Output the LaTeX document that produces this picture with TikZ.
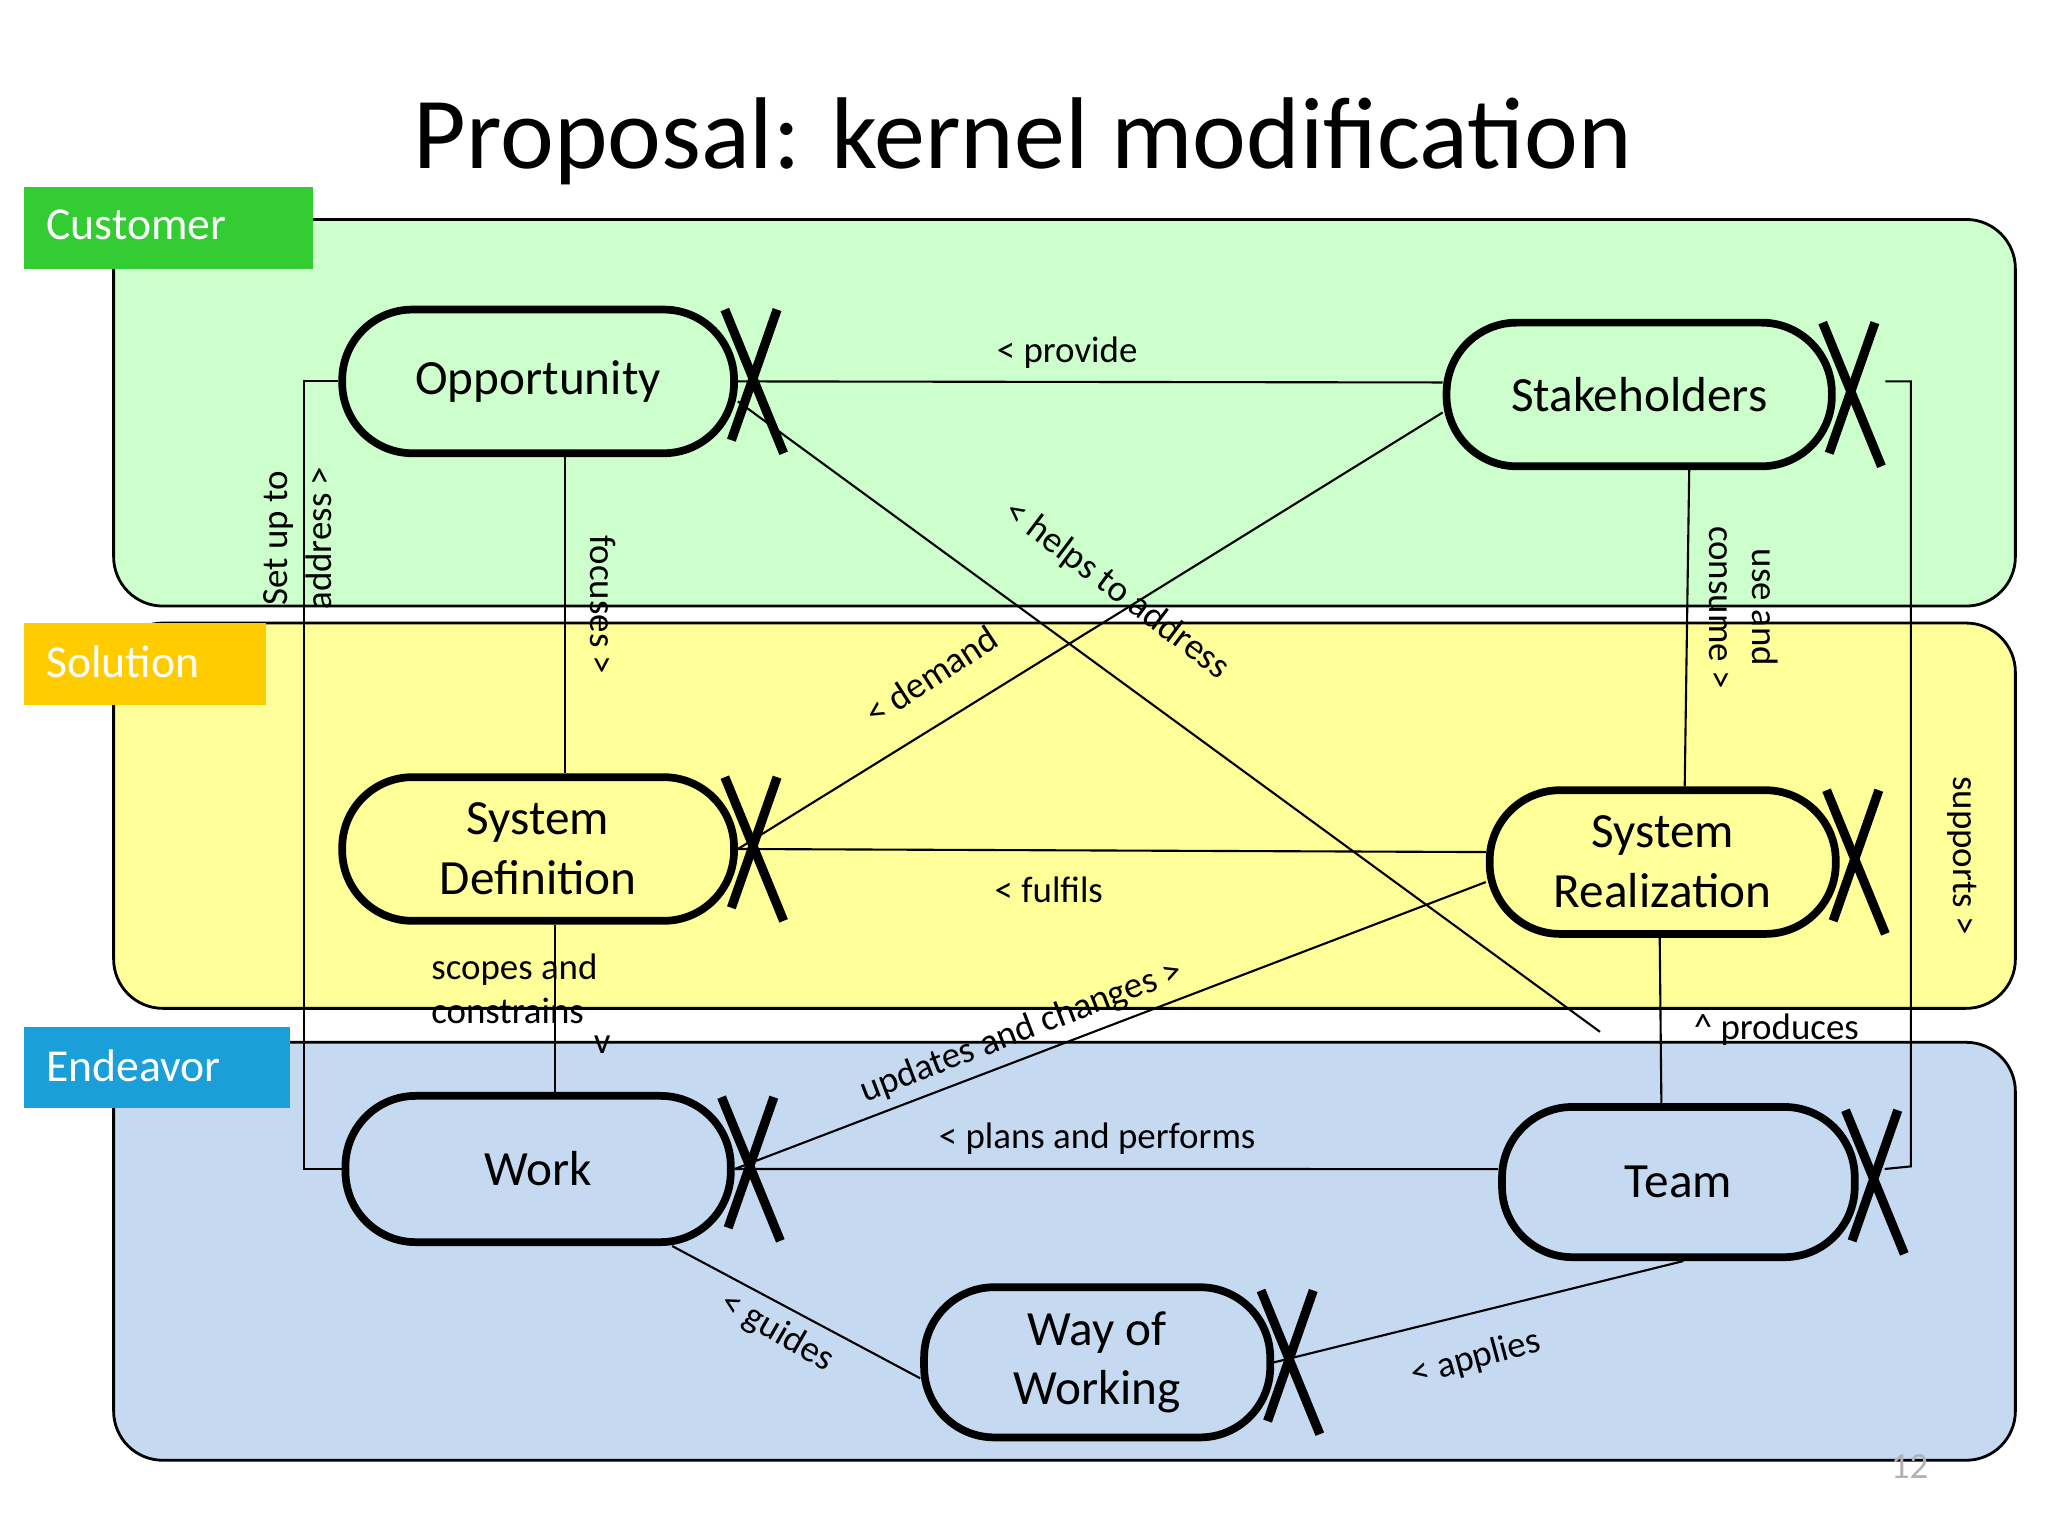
\documentclass[tikz,border=0pt]{standalone}
\usepackage{fontspec}
\setmainfont{Carlito}
\definecolor{custbg}{RGB}{204,255,204}
\definecolor{solbg}{RGB}{255,255,153}
\definecolor{endbg}{RGB}{197,217,241}
\definecolor{custtag}{RGB}{51,204,51}
\definecolor{soltag}{RGB}{255,204,0}
\definecolor{endtag}{RGB}{26,159,216}
\begin{document}
\begin{tikzpicture}[x=0.1306mm,y=-0.1306mm,
  band/.style={draw=black,line width=0.8pt,rounded corners=14pt},
  tag/.style={anchor=north west,text=white,font=\fontsize{13}{15}\selectfont,inner sep=0pt},
  alpha/.style={draw=black,line width=2.2pt,rounded corners=20pt,align=center,
    font=\fontsize{14}{17}\selectfont,inner sep=0pt},
  link/.style={draw=black,line width=0.6pt},
  lbl/.style={font=\fontsize{10.5}{12.5}\selectfont,inner sep=1pt,align=center}]
\useasboundingbox (0,0) rectangle (1568,1176);
\node[font=\fontsize{29}{33}\selectfont] (title) at (783,108) {Proposal: kernel modification};
% bands
\draw[band,fill=custbg] (87,168) rectangle (1543,464);
\draw[band,fill=solbg] (87,477) rectangle (1543,772);
\draw[band,fill=endbg] (87,798) rectangle (1543,1118);
\fill[custtag] (18,143) rectangle (240,206);
\node[tag] (tc) at (35,160) {Customer};
\fill[soltag] (18,477) rectangle (204,540);
\node[tag] (ts) at (35,494) {Solution};
\fill[endtag] (18,786) rectangle (222,848);
\node[tag] (te) at (35,803) {Endeavor};
% alphas
\node[alpha,minimum width=300*0.1306mm,minimum height=110*0.1306mm] (opp) at (412,292) {Opportunity};
\node[alpha,minimum width=295*0.1306mm,minimum height=110*0.1306mm] (stk) at (1255,302) {Stakeholders};
\node[alpha,minimum width=300*0.1306mm,minimum height=110*0.1306mm] (sd) at (412,650) {System\\Definition};
\node[alpha,minimum width=265*0.1306mm,minimum height=110*0.1306mm] (sr) at (1273,660) {System\\Realization};
\node[alpha,minimum width=295*0.1306mm,minimum height=112*0.1306mm] (wk) at (412,895) {Work};
\node[alpha,minimum width=270*0.1306mm,minimum height=115*0.1306mm] (tm) at (1285,905) {Team};
\node[alpha,minimum width=265*0.1306mm,minimum height=115*0.1306mm] (ww) at (840,1043) {Way of\\Working};
\foreach \n in {opp,stk,sd,sr,wk,tm,ww}{
  \draw[line width=2.6pt] ([shift={(-10,-55)}]\n.east) -- ([shift={(35,55)}]\n.east);
  \draw[line width=2.6pt] ([shift={(30,-55)}]\n.east) -- ([shift={(-5,45)}]\n.east);
}
% connectors
\coordinate (hx) at (1225,790);
\coordinate (sa1) at (233,292);
\coordinate (sa2) at (233,895);
\coordinate (sp1) at (1463,292);
\coordinate (sp2) at (1463,893);
\draw[link] (opp.east) -- ([yshift=1.2mm]stk.west);
\draw[link] ([yshift=-2mm]opp.east) -- (hx);
\draw[link] ([yshift=-1.8mm]stk.west) -- (sd.east);
\draw[link] ([xshift=2.7mm]opp.south) -- ([xshift=2.7mm]sd.north);
\draw[link] ([xshift=5mm]stk.south) -- ([xshift=2.2mm]sr.north);
\draw[link] (sd.east) -- ([yshift=1mm]sr.west);
\draw[link] ([xshift=1.7mm]sd.south) -- ([xshift=1.7mm]wk.north);
\draw[link] ([yshift=-2mm]sr.west) -- (wk.east);
\draw[link] ([xshift=-0.3mm]sr.south) -- ([xshift=-1.7mm]tm.north);
\draw[link] (wk.east) -- ([yshift=1.3mm]tm.west);
\draw[link] (opp.west) -- (sa1) -- (sa2) -- (wk.west);
\draw[link] ([shift={(38,-10)}]stk.east) -- (sp1) -- (sp2) -- ([shift={(20,-10)}]tm.east);
\draw[link] ([xshift=13.4mm]wk.south) -- ([yshift=-1.6mm]ww.west);
\draw[link] (ww.east) -- ([xshift=0.5mm]tm.south);
% labels
\node[lbl] (l1) at (817,270) {< provide};
\node[lbl,rotate=-37] (l2) at (855,452) {< helps to address};
\node[lbl,rotate=33] (l3) at (713,517) {< demand};
\node[lbl,rotate=-90] (l4) at (462,463) {focuses >};
\node[lbl,rotate=-90] (l5) at (1335,465) {use and\\consume >};
\node[lbl] (l6) at (803,681) {< fulfils};
\node[lbl,align=left,anchor=west] (l7) at (327,757) {scopes and\\constrains};
\node[lbl] (l7b) at (461,800) {v};
\node[lbl,rotate=21] (l8) at (782,790) {updates and changes >};
\node[lbl] (l9) at (1360,788) {\^{} produces};
\node[lbl] (l10) at (840,872) {< plans and performs};
\node[lbl,rotate=90] (l11) at (228,412) {Set up to\\address >};
\node[lbl,rotate=-90] (l12) at (1502,655) {supports >};
\node[lbl,rotate=-30] (l13) at (595,1020) {< guides};
\node[lbl,rotate=15] (l14) at (1130,1040) {< applies};
\node[lbl,text=gray!60] (pg) at (1462,1123) {12};
\end{tikzpicture}
\end{document}
